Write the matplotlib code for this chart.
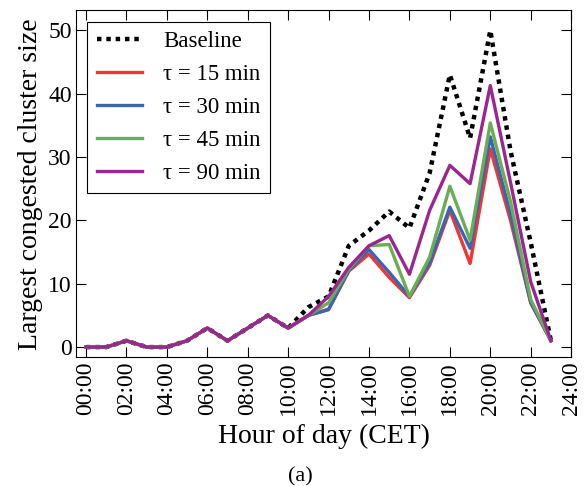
import matplotlib
matplotlib.use("Agg")
import matplotlib.pyplot as plt
import numpy as np

plt.rcParams["font.family"] = ["Liberation Serif", "DejaVu Serif"]
plt.rcParams["mathtext.fontset"] = "stix"

hours = np.arange(24)
tick_hours = np.arange(0, 25, 2)
tick_labels = ["%02d:00" % h for h in tick_hours]

baseline = [0, 0, 1, 0, 0, 1, 3, 1, 3, 5, 3, 6.3, 8, 16, 18.4, 21.4, 18.8, 27.5, 43, 33, 50, 31, 16.5, 1]
tau_15 = [0, 0, 1, 0, 0, 1, 3, 1, 3, 5, 3, 5, 6, 12, 14.7, 11, 7.8, 12.9, 21.6, 13.2, 31.3, 20, 7, 1]
tau_30 = [0, 0, 1, 0, 0, 1, 3, 1, 3, 5, 3, 5, 5.9, 12.1, 15.4, 11.8, 8, 13.3, 22.1, 15.6, 33.2, 21, 7, 1]
tau_45 = [0, 0, 1, 0, 0, 1, 3, 1, 3, 5, 3, 5, 7, 12.3, 16, 16.2, 8, 14.2, 25.4, 16.9, 35.4, 23, 7.5, 1]
tau_90 = [0, 0, 1, 0, 0, 1, 3, 1, 3, 5, 3, 5, 8, 12.6, 16, 17.6, 11.5, 21.6, 28.7, 25.8, 41.3, 26, 10.3, 1]

series = [
    ("τ = 15 min", tau_15, "#f03535"),
    ("τ = 30 min", tau_30, "#3a66b0"),
    ("τ = 45 min", tau_45, "#6aad55"),
    ("τ = 90 min", tau_90, "#9a2790"),
]

fig = plt.figure(figsize=(5.84, 4.86), dpi=100)
ax = fig.add_axes([0.130, 0.265, 0.848, 0.714])

ax.plot(hours, baseline, color="black", lw=3.2, linestyle=(0, (1, 1.1)), label="Baseline")
for label, values, color in series:
    ax.plot(hours, values, color=color, lw=2.4, label=label)

ax.set_xlim(-0.5, 24)
ax.set_ylim(-1.6, 53.2)
ax.set_xticks(tick_hours)
ax.set_xticklabels(tick_labels, rotation=90)
ax.set_yticks([0, 10, 20, 30, 40, 50])
ax.tick_params(direction="in", top=True, right=True, length=7, labelsize=17, pad=3)

ax.set_xlabel("Hour of day (CET)", fontsize=20, labelpad=6)
ax.set_ylabel("Largest congested cluster size", fontsize=20, labelpad=4)

leg = ax.legend(loc="upper left", fontsize=16.5, frameon=True, fancybox=False,
                edgecolor="black", framealpha=1, borderaxespad=0.5,
                handlelength=2.0, handletextpad=0.9, labelspacing=0.52,
                borderpad=0.4)
leg.get_frame().set_linewidth(0.8)

fig.text(0.515, 0.0185, "(a)", ha="center", va="center", fontsize=16)

fig.savefig("out.png", dpi=100)
